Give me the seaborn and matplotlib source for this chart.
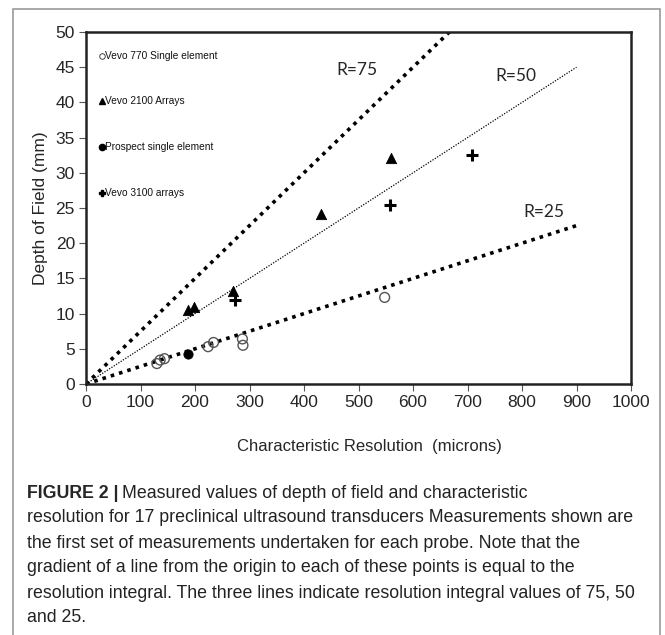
import numpy as np
import pandas as pd
import matplotlib
matplotlib.use("Agg")
import matplotlib.pyplot as plt
import matplotlib.patches as mpatches
import seaborn as sns

# ==============================
# Data
# ==============================
vevo770_res = [130, 136, 144, 224, 234, 287, 288, 548]
vevo770_dof = [2.9, 3.4, 3.6, 5.3, 5.9, 6.4, 5.5, 12.3]

prospect_res = [187]
prospect_dof = [4.3]

vevo2100_res = [188, 198, 269, 431, 559]
vevo2100_dof = [10.5, 10.9, 13.2, 24.1, 32.1]

vevo3100_res = [274, 557, 709]
vevo3100_dof = [12.0, 25.4, 32.5]

r_values = [75, 50, 25]
r_line_xmax = [667, 900, 900]
r_label_pos = [(497, 44.6), (788, 43.8), (841, 24.4)]

legend_labels = ["Vevo 770 Single element", "Vevo 2100 Arrays",
                 "Prospect single element", "Vevo 3100 arrays"]
legend_y = [46.6, 40.2, 33.7, 27.2]

caption_lines = [
    "resolution for 17 preclinical ultrasound transducers Measurements shown are",
    "the first set of measurements undertaken for each probe. Note that the",
    "gradient of a line from the origin to each of these points is equal to the",
    "resolution integral. The three lines indicate resolution integral values of 75, 50",
    "and 25.",
]

# ==============================
# Tables
# ==============================
lines = pd.concat([
    pd.DataFrame({"x": [0, xm], "y": [0, r * xm / 1000], "R": f"R={r}"})
    for r, xm in zip(r_values, r_line_xmax)
])

sns.set_style("white")
plt.rcParams["font.family"] = ["Liberation Sans", "DejaVu Sans"]

fig = plt.figure(figsize=(6.65, 6.35), dpi=100)
ax = fig.add_axes([86 / 665, 1 - 384 / 635, 545 / 665, 352 / 635])

# grey frame around the whole panel
fig.patches.append(mpatches.Rectangle((13 / 665, -0.05), 647 / 665, 1.05 - 9 / 635,
                                      transform=fig.transFigure, fill=False,
                                      edgecolor="#9a9a9a", linewidth=1.2))

# resolution integral lines
styles = {"R=75": ((0, (1, 1.4)), 2.6), "R=50": ((0, (1, 1.2)), 0.9), "R=25": ((0, (1, 1.4)), 2.6)}
for name, grp in lines.groupby("R", sort=False):
    ls, lw = styles[name]
    sns.lineplot(data=grp, x="x", y="y", ax=ax, color="black",
                 linestyle=ls, linewidth=lw, legend=False)

# measured points
sns.scatterplot(x=vevo770_res, y=vevo770_dof, ax=ax, marker="o", s=50,
                facecolor="none", edgecolor="#555555", linewidth=1.0, zorder=3)
sns.scatterplot(x=prospect_res, y=prospect_dof, ax=ax, marker="o", s=45,
                color="black", edgecolor="black", zorder=3)
sns.scatterplot(x=vevo2100_res, y=vevo2100_dof, ax=ax, marker="^", s=55,
                color="black", edgecolor="black", zorder=3)
sns.scatterplot(x=vevo3100_res, y=vevo3100_dof, ax=ax, marker="+", s=75,
                color="black", linewidth=2.2, zorder=3)

# in-plot key
key_markers = [dict(marker="o", mfc="none", mec="#444444", ms=4, mew=0.7),
               dict(marker="^", color="black", ms=4.5),
               dict(marker="o", color="black", ms=4.5),
               dict(marker="P", color="black", ms=5)]
for lab, yk, mk in zip(legend_labels, legend_y, key_markers):
    ax.plot([29], [yk], linestyle="none", **mk)
    ax.text(35, yk, lab, fontsize=7.3, va="center", ha="left", color="#111111")

# line labels
for r, (xl, yl) in zip(r_values, r_label_pos):
    ax.text(xl, yl, f"R={r}", fontsize=12.5, ha="center", va="center",
            family=["Lato", "DejaVu Sans"])

ax.set_xlim(0, 1000)
ax.set_ylim(0, 50)
ax.set_xticks(np.arange(0, 1001, 100))
ax.set_yticks(np.arange(0, 51, 5))
ax.tick_params(axis="both", labelsize=12.5, length=5, width=0.8, color="#555555",
               direction="out", bottom=True, left=True, pad=3)
for sp in ax.spines.values():
    sp.set_linewidth(1.8)
    sp.set_color("#222222")
ax.set_xlabel("")
ax.set_ylabel("Depth of Field (mm)", fontsize=12.5, labelpad=5)

fig.text(369 / 665, 1 - 447 / 635, "Characteristic Resolution  (microns)",
         fontsize=12, ha="center", va="center")

# caption
cap_size = 12.8
y0, dy = 493, 25
t1 = fig.text(27 / 665, 1 - y0 / 635, "FIGURE 2 |", fontsize=cap_size, fontweight="bold",
              ha="left", va="center")
fig.canvas.draw()
bb = t1.get_window_extent()
fig.text(bb.x1 / fig.bbox.width + 3 / 665, 1 - y0 / 635,
         "Measured values of depth of field and characteristic",
         fontsize=cap_size, ha="left", va="center", color="#222222")
for i, line in enumerate(caption_lines, start=1):
    fig.text(27 / 665, 1 - (y0 + dy * i) / 635, line, fontsize=cap_size,
             ha="left", va="center", color="#222222")

fig.savefig("out.png", dpi=100)
